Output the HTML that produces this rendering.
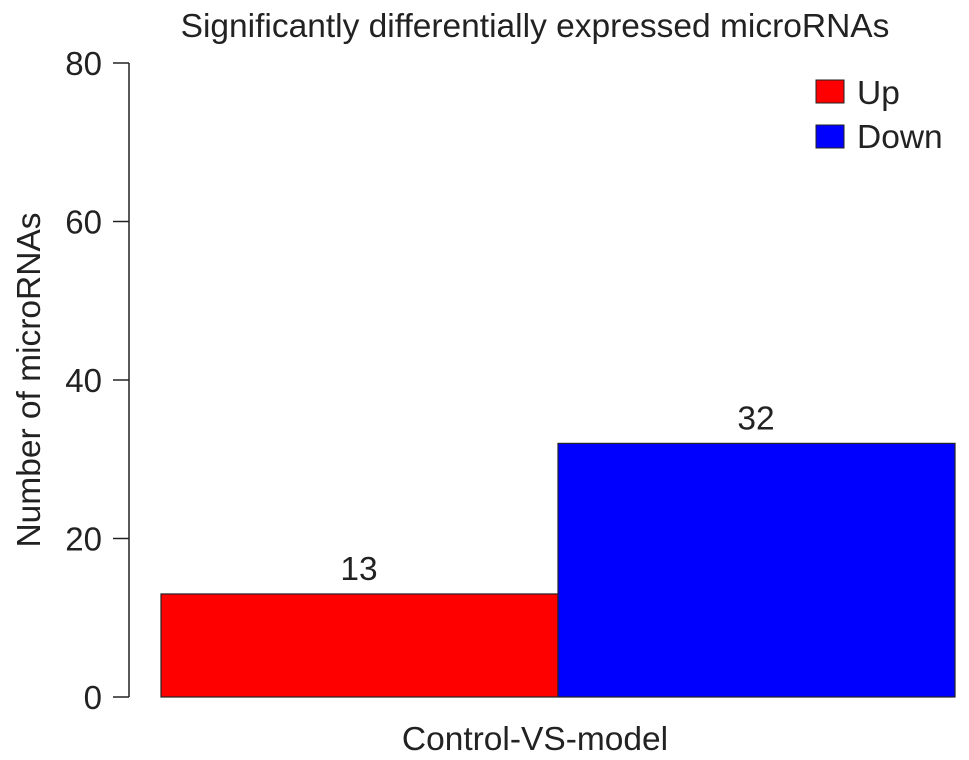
<!DOCTYPE html>
<html><head><meta charset="utf-8"><style>
body{margin:0;background:#fff}
svg{display:block;font-family:"Liberation Sans",Arial,sans-serif}
</style></head><body>
<svg id="chart" width="969" height="760"></svg>
<script>
const categories = ["Up", "Down"];
const values = [13, 32];
const colors = ["#ff0000", "#0000ff"];
const yTicks = [0, 20, 40, 60, 80];
const NS = "http://www.w3.org/2000/svg";
const svg = document.getElementById("chart");
function y(v){ return 697 - v * (697 - 63) / 80; }
function x(i){ return 161 + i * 397; }
function mk(tag, attrs, text){
  const e = document.createElementNS(NS, tag);
  for (const k in attrs) e.setAttribute(k, attrs[k]);
  if (text !== undefined) e.textContent = text;
  svg.appendChild(e); return e;
}
let t = mk("text", {x: 535, y: 37, "text-anchor": "middle", "font-size": 33.5, fill: "#222"}, "Significantly differentially expressed microRNAs");


let ax = mk("line", {x1: 129, x2: 129, y1: y(0), y2: y(80), stroke: "#222", "stroke-width": 1.5});


yTicks.forEach(v => {
  const tk = mk("line", {x1: 113, x2: 129, y1: y(v), y2: y(v), stroke: "#222", "stroke-width": 1.5});
  
  
  const lb = mk("text", {x: 102, y: y(v) + 12, "text-anchor": "end", "font-size": 33, fill: "#222"}, String(v));
  
  
});
let yt = mk("text", {x: 0, y: 0, transform: "translate(40,380) rotate(-90)", "text-anchor": "middle", "font-size": 33.5, fill: "#222"}, "Number of microRNAs");


values.forEach((v, i) => {
  const b = mk("rect", {x: x(i), y: y(v), width: 397, height: y(0) - y(v), fill: colors[i], stroke: "#222", "stroke-width": 1.2});
  
  
  const l = mk("text", {x: x(i) + 198, y: y(v) - 14, "text-anchor": "middle", "font-size": 33.5, fill: "#222"}, String(v));
  
  
});
let xl = mk("text", {x: 535, y: 750, "text-anchor": "middle", "font-size": 33.5, fill: "#222"}, "Control-VS-model");


categories.forEach((c, i) => {
  const r = mk("rect", {x: 816, y: 80 + i * 45, width: 28, height: 23, fill: colors[i], stroke: "#222", "stroke-width": 1});
  
  
  const lt = mk("text", {x: 857, y: 104 + i * 44, "font-size": 33.5, fill: "#222"}, c);
  
  
});
</script>
</body></html>
